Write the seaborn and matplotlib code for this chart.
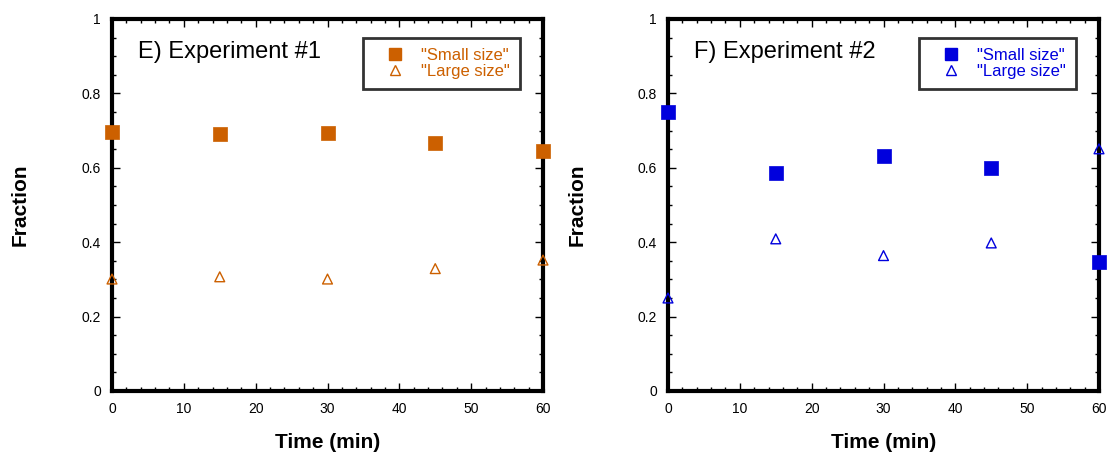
import numpy as np
import pandas as pd
import matplotlib
matplotlib.use("Agg")
import matplotlib.pyplot as plt
from matplotlib.lines import Line2D
from matplotlib.ticker import MultipleLocator
import seaborn as sns

# ---- data ----
time_min = [0, 15, 30, 45, 60]
exp1_small = [0.695, 0.690, 0.694, 0.668, 0.644]
exp1_large = [0.301, 0.307, 0.301, 0.329, 0.352]
exp2_small = [0.749, 0.586, 0.632, 0.599, 0.346]
exp2_large = [0.250, 0.409, 0.364, 0.398, 0.651]
panel_titles = ["E) Experiment #1", "F) Experiment #2"]
series_labels = ['"Small size"', '"Large size"']
x_ticks = [0, 10, 20, 30, 40, 50, 60]
y_ticks = [0, 0.2, 0.4, 0.6, 0.8, 1]
y_ticklabels = ["0", "0.2", "0.4", "0.6", "0.8", "1"]

sns.set_style("white")
plt.rcParams["font.family"] = ["Liberation Sans", "DejaVu Sans"]
plt.rcParams["text.color"] = "black"
plt.rcParams["axes.labelcolor"] = "black"
plt.rcParams["xtick.color"] = "black"
plt.rcParams["ytick.color"] = "black"

fig = plt.figure(figsize=(11.07, 4.54), dpi=100)
ax1 = fig.add_axes([112 / 1107, 1 - 391 / 454, 431 / 1107, 372 / 454])
ax2 = fig.add_axes([668 / 1107, 1 - 391 / 454, 431 / 1107, 372 / 454])

panels = [
    (ax1, exp1_small, exp1_large, "#CC6000", panel_titles[0]),
    (ax2, exp2_small, exp2_large, "#0000DD", panel_titles[1]),
]

for ax, small, large, col, title in panels:
    df = pd.DataFrame({"t": time_min + time_min,
                       "frac": small + large,
                       "series": [series_labels[0]] * 5 + [series_labels[1]] * 5})
    sm = df[df.series == series_labels[0]]
    lg = df[df.series == series_labels[1]]
    sns.scatterplot(data=sm, x="t", y="frac", marker="s", s=95, color=col,
                    edgecolor=col, linewidth=0.5, ax=ax, clip_on=False, zorder=5, legend=False)
    sns.scatterplot(data=lg, x="t", y="frac", marker="^", s=50, facecolor="none",
                    edgecolor=col, linewidth=1.0, ax=ax, clip_on=False, zorder=5, legend=False)

    ax.set_xlim(0, 60)
    ax.set_ylim(0, 1)
    ax.set_xticks(x_ticks)
    ax.set_yticks(y_ticks)
    ax.set_yticklabels(y_ticklabels)
    ax.xaxis.set_minor_locator(MultipleLocator(2))
    ax.yaxis.set_minor_locator(MultipleLocator(0.05))
    ax.tick_params(which="both", direction="in", top=True, right=True,
                   bottom=True, left=True, colors="black", labelsize=10)
    ax.tick_params(which="major", length=6, width=1)
    ax.tick_params(which="minor", length=3, width=1)
    ax.tick_params(axis="x", pad=8)
    ax.tick_params(axis="y", pad=8)
    for sp in ax.spines.values():
        sp.set_visible(True)
        sp.set_linewidth(3)
        sp.set_color("black")
    ax.set_xlabel("Time (min)", fontsize=15, fontweight="bold", labelpad=12)
    ax.set_ylabel("Fraction", fontsize=15, fontweight="bold", labelpad=37)
    ax.text(0.06, 0.91, title, transform=ax.transAxes, fontsize=17,
            va="center", ha="left", color="black")

    handles = [
        Line2D([], [], linestyle="none", marker="s", markersize=9,
               markerfacecolor=col, markeredgecolor=col),
        Line2D([], [], linestyle="none", marker="^", markersize=7,
               markerfacecolor="none", markeredgecolor=col, markeredgewidth=1),
    ]
    leg = ax.legend(handles, series_labels, loc="upper right",
                    bbox_to_anchor=(0.947, 0.949), borderaxespad=0,
                    fontsize=12, labelcolor=col,
                    frameon=True, fancybox=False, edgecolor="black",
                    handletextpad=0.3, borderpad=0.6, labelspacing=0.05,
                    handlelength=2.6)
    leg.get_frame().set_linewidth(2)

fig.savefig("out.png", dpi=100)
